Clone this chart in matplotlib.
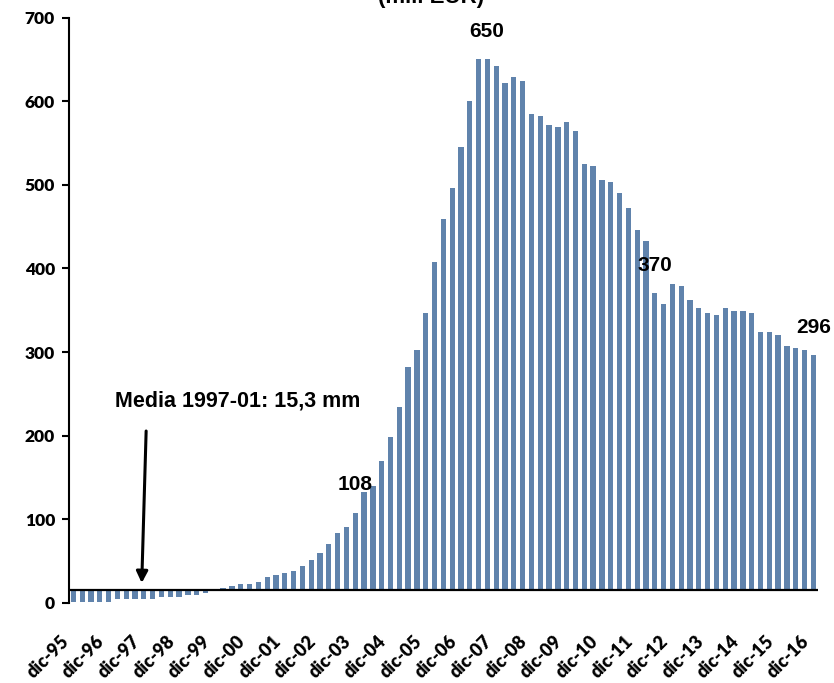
import numpy as np
import matplotlib
matplotlib.use("Agg")
import matplotlib.pyplot as plt
import matplotlib.transforms as mtransforms

# quarterly series, dic-95 .. dic-16 (mill EUR)
values = [1.5, 1.5, 1.5, 1.5, 1.5, 4.5, 4.5, 4.5, 4.5, 4.5,
          6.9, 6.9, 6.9, 9.3, 9.3, 12.1, 15.3, 17.3, 20.1, 22.5,
          22.5, 24.9, 30.9, 33.2, 35.6, 38.0, 44.0, 51.2, 59.6, 70.3,
          83.5, 90.7, 108, 132, 140, 170, 198, 234, 282, 303,
          347, 408, 459, 496, 545, 600, 650, 650, 642, 622,
          629, 624, 585, 582, 572, 569, 575, 564, 525, 522,
          506, 503, 490, 472, 446, 433, 370, 357, 381, 379,
          362, 353, 347, 344, 353, 349, 349, 347, 324, 324,
          320, 307, 305, 302, 296]
years = ['95', '96', '97', '98', '99', '00', '01', '02', '03', '04', '05',
         '06', '07', '08', '09', '10', '11', '12', '13', '14', '15', '16']
tick_labels = ['dic-' + y for y in years]
media = 15.3
media_text = 'Media 1997-01: 15,3 mm'
labelled = [32, 46, 66, 84]   # bars with a value label
yticks = [0, 100, 200, 300, 400, 500, 600, 700]

bar_color = '#6083ac'
label_font = ['Liberation Sans', 'DejaVu Sans']
axis_font = ['Lato', 'DejaVu Sans']

fig = plt.figure(figsize=(8.34, 6.83), dpi=100)
ax = fig.add_axes([0.0827, 0.1174, 0.8978, 0.8568])

x = np.arange(len(values))
vals = np.array(values)
ax.bar(x, vals - media, bottom=media, width=0.6, color=bar_color, zorder=2)

# category axis crosses at the 1997-01 mean
ax.axhline(media, color='black', lw=1.6, zorder=3)

ax.set_xlim(-0.5, len(values) - 0.5)
ax.set_ylim(0, 700)

for s in ['top', 'right', 'bottom']:
    ax.spines[s].set_visible(False)
ax.spines['left'].set_linewidth(1.5)

ax.set_yticks(yticks)
ax.set_yticklabels([str(t) for t in yticks], fontsize=12.5, fontweight='heavy',
                   family=axis_font)
ax.tick_params(axis='y', direction='out', length=5, width=1.5, pad=5)

ax.set_xticks(x[::4])
ax.set_xticklabels(tick_labels, fontsize=13, fontweight='heavy', family=axis_font,
                   rotation=45, ha='right', va='center', rotation_mode='anchor')
ax.tick_params(axis='x', length=0, pad=26)
offset = mtransforms.ScaledTranslation(-7 / 100, 0, fig.dpi_scale_trans)
for lab in ax.get_xticklabels():
    lab.set_transform(lab.get_transform() + offset)

# value labels above selected bars
for i in labelled:
    dx = 6 if i == 46 else 0
    ax.annotate(f'{values[i]:.0f}', xy=(i, values[i]), xytext=(dx, 20),
                textcoords='offset points', ha='center', va='center',
                fontsize=15, fontweight='bold', family=label_font)

ax.text(18.6, 242, media_text, ha='center', va='center', fontsize=15.5,
        fontweight='bold', family=label_font)
ax.annotate('', xy=(7.76, 23.7), xytext=(8.26, 205.5),
            arrowprops=dict(arrowstyle='-|>', lw=2.2, color='black',
                            mutation_scale=17, shrinkA=0, shrinkB=0))

fig.text(0.517, 1.003, '(mill EUR)', ha='center', va='center', fontsize=16,
         fontweight='bold', family=label_font)

fig.savefig('out.png', dpi=100)
